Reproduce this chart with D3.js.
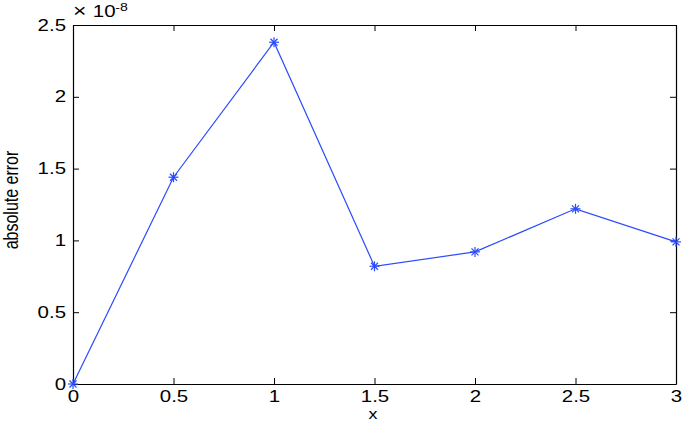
<!DOCTYPE html>
<html>
<head>
<meta charset="utf-8">
<script src="https://cdn.jsdelivr.net/npm/d3@7"></script>
<style>
body { margin: 0; background: #fff; }
svg text { font-family: "Liberation Sans", Arial, sans-serif; }
</style>
</head>
<body>
<svg id="chart" width="685" height="424"></svg>
<script>
// absolute error at each node (units of 1e-8)
const xs = [0, 0.5, 1, 1.5, 2, 2.5, 3];
const errs = [0, 1.44, 2.38, 0.82, 0.92, 1.22, 0.99];
const xTicks = [0, 0.5, 1, 1.5, 2, 2.5, 3];
const yTicks = [0, 0.5, 1, 1.5, 2, 2.5];

const svg = d3.select("#chart");
const mLeft = 73, mRight = 676, mTop = 25, mBottom = 384;
const sx = 1.28; // the original figure is stretched sideways

const x = d3.scaleLinear().domain([0, 3]).range([mLeft, mRight]);
const y = d3.scaleLinear().domain([0, 2.5]).range([mBottom, mTop]);

const tickLen = 6;
const fmt = d => d3.format("")(d);

// bottom + top axes, ticks inward
const gx = svg.append("g").attr("transform", `translate(0,${mBottom})`)
  .call(d3.axisBottom(x).tickValues(xTicks).tickSizeInner(-tickLen).tickSizeOuter(0).tickPadding(7).tickFormat(fmt));
svg.append("g").attr("transform", `translate(0,${mTop})`)
  .call(d3.axisTop(x).tickValues(xTicks).tickSizeInner(-tickLen).tickSizeOuter(0).tickFormat(""));
const gy = svg.append("g").attr("transform", `translate(${mLeft},0)`)
  .call(d3.axisLeft(y).tickValues(yTicks).tickSizeInner(-tickLen).tickSizeOuter(0).tickPadding(7).tickFormat(fmt));
svg.append("g").attr("transform", `translate(${mRight},0)`)
  .call(d3.axisRight(y).tickValues(yTicks).tickSizeInner(-tickLen).tickSizeOuter(0).tickFormat(""));

svg.selectAll(".domain").attr("stroke", "#000").attr("stroke-width", 1.2);
svg.selectAll(".tick line").attr("stroke", "#000");
svg.selectAll(".tick text").attr("font-size", 16).attr("fill", "#000")
  .attr("font-family", "Liberation Sans, Arial, sans-serif")
  .attr("transform", `scale(${sx},1)`);
gy.selectAll(".tick text").attr("x", -7 / sx);

// the line
const line = d3.line().x((d, i) => x(xs[i])).y(d => y(d));
svg.append("path").datum(errs)
  .attr("d", line).attr("fill", "none").attr("stroke", "#2b4bff").attr("stroke-width", 1.2);

// star markers
const star = svg.append("g").attr("stroke", "#2b4bff").attr("stroke-width", 1.2);
errs.forEach((e, i) => {
  const cx = x(xs[i]), cy = y(e), r = 5;
  const g = star.append("g").attr("transform", `translate(${cx},${cy})`);
  g.append("line").attr("x1", -r).attr("x2", r).attr("y1", 0).attr("y2", 0);
  g.append("line").attr("x1", 0).attr("x2", 0).attr("y1", -r).attr("y2", r);
  g.append("line").attr("x1", -r * 0.7).attr("x2", r * 0.7).attr("y1", -r * 0.7).attr("y2", r * 0.7);
  g.append("line").attr("x1", -r * 0.7).attr("x2", r * 0.7).attr("y1", r * 0.7).attr("y2", -r * 0.7);
});

// exponent label
const ex = svg.append("text").attr("transform", `translate(${mLeft},17) scale(${sx},1)`)
  .attr("font-size", 16).attr("fill", "#000");
ex.append("tspan").attr("x", 0).attr("font-size", 18).text("\u00d7");
ex.append("tspan").attr("x", 15.5).text("10");
ex.append("tspan").attr("x", 33).attr("dy", -6).attr("font-size", 11).text("-8");

// axis titles
svg.append("text").attr("transform", `translate(373,419) scale(${sx},1)`)
  .attr("text-anchor", "middle").attr("font-size", 14).text("x");
svg.append("text")
  .attr("transform", `translate(18,200) rotate(-90) scale(1,${sx})`)
  .attr("text-anchor", "middle").attr("font-size", 16).text("absolute error");
</script>
</body>
</html>
